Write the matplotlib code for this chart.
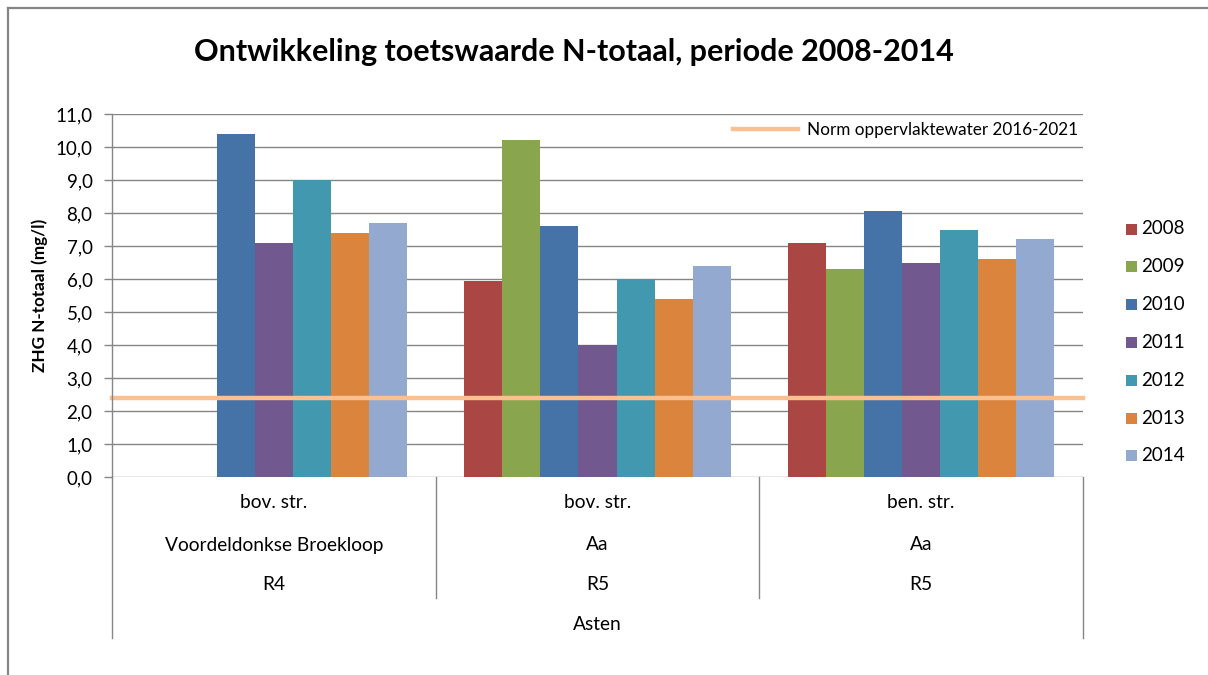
import numpy as np
import matplotlib
matplotlib.use("Agg")
import matplotlib.pyplot as plt
from matplotlib.lines import Line2D
from matplotlib.patches import Rectangle
from matplotlib.transforms import blended_transform_factory

plt.rcParams['font.family'] = ['Lato', 'DejaVu Sans']

# ---- data ----
years = ["2008", "2009", "2010", "2011", "2012", "2013", "2014"]
colors = ["#AA4643", "#89A54E", "#4572A7", "#71588F", "#4198AF", "#DB843D", "#93A9CF"]
level1 = ["bov. str.", "bov. str.", "ben. str."]
level2 = ["Voordeldonkse Broekloop", "Aa", "Aa"]
level3 = ["R4", "R5", "R5"]
level4 = "Asten"
values = {
    "2008": [np.nan, 5.95, 7.1],
    "2009": [np.nan, 10.2, 6.3],
    "2010": [10.4, 7.6, 8.05],
    "2011": [7.1, 4.0, 6.5],
    "2012": [9.0, 6.0, 7.5],
    "2013": [7.4, 5.4, 6.6],
    "2014": [7.7, 6.4, 7.2],
}
norm_value = 2.4
norm_label = "Norm oppervlaktewater 2016-2021"
title = "Ontwikkeling toetswaarde N-totaal, periode 2008-2014"
ylabel = "ZHG N-totaal (mg/l)"

W, H = 1208, 675
fig = plt.figure(figsize=(W / 100, H / 100), dpi=100)
fig.patch.set_facecolor("white")

def fx(px):
    return px / W

def fy(py):
    return 1 - py / H

L, R, T, B = 112, 1083, 114, 477
ax = fig.add_axes([fx(L), fy(B), fx(R - L), (B - T) / H])

grey = "#868686"
n = len(years)
width = 1.0 / (n + 1.5)
x = np.arange(len(level1))
for i, yr in enumerate(years):
    ax.bar(x + (i - (n - 1) / 2) * width, values[yr], width=width,
           color=colors[i], zorder=2, linewidth=0)

ax.axhline(norm_value, color="#FAC090", lw=3.2, zorder=3, clip_on=False)

ax.set_xlim(-0.5, len(level1) - 0.5)
ax.set_ylim(0, 11)
ax.set_yticks(np.arange(0, 12, 1))
ax.set_yticklabels([f"{v:.1f}".replace(".", ",") for v in np.arange(0, 12, 1)],
                   fontsize=13.5, color="#000000")
ax.tick_params(axis="y", length=6, width=1, color=grey, pad=8)
ax.set_xticks([])
ax.grid(axis="y", color=grey, lw=1, zorder=0)
for s in ["top", "right", "bottom"]:
    ax.spines[s].set_visible(False)
ax.spines["left"].set_color(grey)
ax.spines["left"].set_linewidth(1)
ax.spines["left"].set_zorder(4)

ax.set_ylabel(ylabel, fontsize=12.3, fontweight="bold")
ax.yaxis.set_label_coords(fx(48 - L) / fx(R - L), 0.5)

# multi-level category axis below the plot
trans = blended_transform_factory(ax.transData, ax.transAxes)
def ay(py):
    return (B - py) / (B - T)

for xs, bottom in [(-0.5, 638), (0.5, 598), (1.5, 598), (2.5, 638)]:
    ax.add_line(Line2D([xs, xs], [0, ay(bottom)], transform=trans, color=grey,
                       lw=1, clip_on=False))
for xi in x:
    for lab, py in [(level1[xi], 503), (level2[xi], 545), (level3[xi], 584)]:
        ax.text(xi, ay(py), lab, transform=trans, ha="center", va="center",
                fontsize=13.8, clip_on=False)
ax.text(1, ay(625), level4, transform=trans, ha="center", va="center",
        fontsize=13.8, clip_on=False)

# title
fig.text(fx(574), fy(52), title, ha="center", va="center", fontsize=22,
         fontweight="bold")

# legend for the norm line
fig.add_artist(Line2D([fx(733), fx(798)], [fy(129), fy(129)], color="#FAC090",
                      lw=3.2))
fig.text(fx(807), fy(130), norm_label, ha="left", va="center", fontsize=12.3)

# legend for the years
for i, yr in enumerate(years):
    cy = 229 + i * 37.8
    fig.add_artist(Rectangle((fx(1126), fy(cy + 5.5)), fx(11), 11 / H,
                             color=colors[i], lw=0))
    fig.text(fx(1141), fy(cy), yr, ha="left", va="center", fontsize=13.5)

# chart frame
fig.add_artist(Line2D([fx(8), fx(W)], [fy(8), fy(8)], color=grey, lw=1.6))
fig.add_artist(Line2D([fx(8), fx(8)], [fy(8), fy(H)], color=grey, lw=1.6))

fig.savefig("out.png", dpi=100)
